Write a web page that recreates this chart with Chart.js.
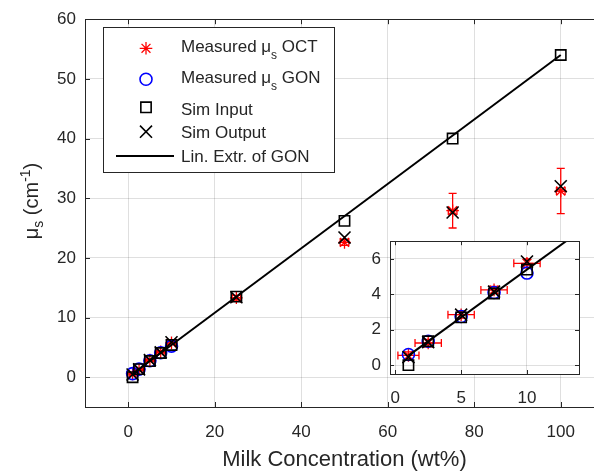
<!DOCTYPE html>
<html><head><meta charset="utf-8">
<script src="https://cdn.jsdelivr.net/npm/chart.js@4/dist/chart.umd.min.js"></script>
<style>
html,body{margin:0;padding:0;background:#fff;overflow:hidden;}
#wrap{position:relative;width:594px;height:474px;overflow:hidden;}
#main{position:absolute;left:0;top:0;}
#inset{position:absolute;left:350px;top:222px;}
</style>
</head><body>
<div id="wrap"><canvas id="main" width="620" height="474"></canvas><canvas id="inset" width="240" height="195"></canvas></div>
<script>
// ---- data ----
const conc      = [1, 2.5, 5, 7.5, 10, 25, 50, 75, 100];
const octMu     = [0.55, 1.25, 2.85, 4.25, 5.75, 13.3, 22.6, 27.9, 31.2];
const octYErr   = [0.2, 0.2, 0.2, 0.2, 0.25, 0.4, 0.5, 2.9, 3.8];
const octXErr   = [0.8, 1.0, 1.0, 1.0, 1.0, 1.0, 1.0, 1.0, 1.0];
const gonConc   = [1, 2.5, 5, 7.5, 10];
const gonMu     = [0.6, 1.35, 2.75, 4.1, 5.2];
const simInput  = [0, 1.35, 2.7, 4.05, 5.4, 13.5, 26.2, 40, 54];
const simOutput = [0.45, 1.3, 2.85, 4.15, 5.85, 13.4, 23.4, 27.6, 32];
const linConc   = [1, 100];
const linMu     = [0.54, 54];
const mainXTicks = [0, 20, 40, 60, 80, 100];
const mainYTicks = [0, 10, 20, 30, 40, 50, 60];
const insetXTicks = [0, 5, 10];
const insetYTicks = [0, 2, 4, 6];
const legendLabels = ['Measured μ|s| OCT', 'Measured μ|s| GON', 'Sim Input', 'Sim Output', 'Lin. Extr. of GON'];

const FONT = "'Liberation Sans', Arial, Helvetica, sans-serif";
const AX = '#262626';
const GRID = 'rgba(38,38,38,0.15)';
const pts = (xs, ys) => xs.map((x, i) => ({x: x, y: ys[i]}));

function datasets() {
  return [
    {label: 'line', data: pts(linConc, linMu), showLine: true, borderColor: '#000', borderWidth: 2, pointRadius: 0, pointHoverRadius: 0},
    {label: 'out', data: pts(conc, simOutput), pointStyle: 'crossRot', pointRadius: 8.5, borderColor: '#000', borderWidth: 1.6, backgroundColor: 'transparent'},
    {label: 'in', data: pts(conc, simInput), pointStyle: 'rect', pointRadius: 7.3, borderColor: '#000', borderWidth: 1.6, backgroundColor: 'transparent'},
    {label: 'gon', data: pts(gonConc, gonMu), pointStyle: 'circle', pointRadius: 6, borderColor: '#0000ff', borderWidth: 1.6, backgroundColor: 'transparent'},
    {label: 'oct', data: pts(conc, octMu), pointStyle: 'star', pointRadius: 6.3, borderColor: '#ff0000', borderWidth: 1.3, backgroundColor: 'transparent'}
  ];
}

const errorBars = {
  id: 'errorBars',
  beforeDatasetsDraw(chart) {
    const ctx = chart.ctx, xs = chart.scales.x, ys = chart.scales.y, a = chart.chartArea;
    ctx.save();
    ctx.beginPath(); ctx.rect(a.left, a.top, a.right - a.left, a.bottom - a.top); ctx.clip();
    ctx.strokeStyle = '#ff0000'; ctx.lineWidth = 1.3;
    const cap = 4;
    conc.forEach((c, i) => {
      const px = xs.getPixelForValue(c), py = ys.getPixelForValue(octMu[i]);
      const y1 = ys.getPixelForValue(octMu[i] - octYErr[i]), y2 = ys.getPixelForValue(octMu[i] + octYErr[i]);
      const x1 = xs.getPixelForValue(c - octXErr[i]), x2 = xs.getPixelForValue(c + octXErr[i]);
      ctx.beginPath();
      ctx.moveTo(px, y1); ctx.lineTo(px, y2);
      ctx.moveTo(px - cap, y1); ctx.lineTo(px + cap, y1);
      ctx.moveTo(px - cap, y2); ctx.lineTo(px + cap, y2);
      ctx.moveTo(x1, py); ctx.lineTo(x2, py);
      ctx.moveTo(x1, py - cap); ctx.lineTo(x1, py + cap);
      ctx.moveTo(x2, py - cap); ctx.lineTo(x2, py + cap);
      ctx.stroke();
    });
    ctx.restore();
  }
};

function boxAndTicks(chart, tl) {
  const ctx = chart.ctx, a = chart.chartArea, xs = chart.scales.x, ys = chart.scales.y;
  ctx.save();
  ctx.strokeStyle = AX; ctx.lineWidth = 1;
  ctx.beginPath();
  xs.ticks.forEach(t => {
    const p = Math.round(xs.getPixelForValue(t.value)) + 0.5;
    ctx.moveTo(p, a.bottom); ctx.lineTo(p, a.bottom - tl);
    ctx.moveTo(p, a.top); ctx.lineTo(p, a.top + tl);
  });
  ys.ticks.forEach(t => {
    const p = Math.round(ys.getPixelForValue(t.value)) + 0.5;
    ctx.moveTo(a.left, p); ctx.lineTo(a.left + tl, p);
    ctx.moveTo(a.right, p); ctx.lineTo(a.right - tl, p);
  });
  ctx.stroke();
  ctx.strokeRect(Math.round(a.left) + 0.5, Math.round(a.top) + 0.5, Math.round(a.right - a.left), Math.round(a.bottom - a.top));
  ctx.restore();
}

// draw text with |sub| parts
function richText(ctx, str, x, y, size, subSize, subDy) {
  const parts = str.split('|');
  let cx = x;
  parts.forEach((p, i) => {
    const isSub = i % 2 === 1;
    ctx.font = (isSub ? subSize : size) + 'px ' + FONT;
    ctx.fillText(p, cx, y + (isSub ? subDy : 0));
    cx += ctx.measureText(p).width;
  });
  return cx;
}

const mainDeco = {
  id: 'mainDeco',
  beforeDraw(chart) {
    const ctx = chart.ctx;
    ctx.save(); ctx.fillStyle = '#fff'; ctx.fillRect(0, 0, chart.width, chart.height); ctx.restore();
  },
  afterDraw(chart) {
    const ctx = chart.ctx, a = chart.chartArea;
    boxAndTicks(chart, 5);
    ctx.save();
    ctx.fillStyle = AX;
    // x title
    ctx.font = '22px ' + FONT; ctx.textAlign = 'center'; ctx.textBaseline = 'alphabetic';
    ctx.fillText('Milk Concentration (wt%)', (a.left + a.right) / 2, 466);
    // y title
    ctx.save();
    ctx.translate(38, 201); ctx.rotate(-Math.PI / 2);
    ctx.textAlign = 'left';
    const yParts = [['μ', 20, 0], ['s', 14, 5], [' (cm', 20, 0], ['-1', 14, -8], [')', 20, 0]];
    let w = 0;
    yParts.forEach(p => { ctx.font = p[1] + 'px ' + FONT; w += ctx.measureText(p[0]).width; });
    let cx = -w / 2;
    yParts.forEach(p => { ctx.font = p[1] + 'px ' + FONT; ctx.fillText(p[0], cx, p[2]); cx += ctx.measureText(p[0]).width; });
    ctx.restore();
    // legend
    const L = 103, T = 27, R = 334, B = 172;
    ctx.fillStyle = '#fff'; ctx.fillRect(L, T, R - L, B - T);
    ctx.strokeStyle = AX; ctx.lineWidth = 1;
    ctx.strokeRect(L + 0.5, T + 0.5, R - L, B - T);
    const symY = [48.3, 79.3, 107.3, 131.7, 156];
    const baseY = [51.7, 83.3, 115, 138.3, 161.7];
    const sx = 146;
    const H = Chart.helpers;
    ctx.lineWidth = 1.3; ctx.strokeStyle = '#ff0000';
    H.drawPoint(ctx, {pointStyle: 'star', radius: 6.3, rotation: 0, borderWidth: 1.3}, sx, symY[0]);
    ctx.lineWidth = 1.6; ctx.strokeStyle = '#0000ff'; ctx.fillStyle = 'transparent';
    H.drawPoint(ctx, {pointStyle: 'circle', radius: 6, rotation: 0, borderWidth: 1.6}, sx, symY[1]);
    ctx.strokeStyle = '#000';
    H.drawPoint(ctx, {pointStyle: 'rect', radius: 7.3, rotation: 0, borderWidth: 1.6}, sx, symY[2]);
    H.drawPoint(ctx, {pointStyle: 'crossRot', radius: 8.5, rotation: 0, borderWidth: 1.6}, sx, symY[3]);
    ctx.lineWidth = 2;
    ctx.beginPath(); ctx.moveTo(116, symY[4]); ctx.lineTo(174, symY[4]); ctx.stroke();
    ctx.fillStyle = AX; ctx.textAlign = 'left'; ctx.textBaseline = 'alphabetic';
    legendLabels.forEach((lab, i) => richText(ctx, lab, 181, baseY[i], 17, 12, 7));
    ctx.restore();
  }
};

const insetDeco = {
  id: 'insetDeco',
  beforeDraw(chart) {
    const ctx = chart.ctx, a = chart.chartArea;
    ctx.save(); ctx.fillStyle = '#fff'; ctx.fillRect(a.left, a.top, a.right - a.left, a.bottom - a.top); ctx.restore();
  },
  afterDraw(chart) { boxAndTicks(chart, 4); }
};

function axis(min, max, tickVals, size, pad, fit) {
  return {
    type: 'linear', min: min, max: max,
    afterBuildTicks: s => { s.ticks = tickVals.map(v => ({value: v})); },
    afterFit: fit,
    grid: {color: GRID, drawTicks: false, lineWidth: 1},
    border: {display: false},
    ticks: {font: {family: FONT, size: size}, color: AX, padding: pad, maxRotation: 0, autoSkip: false}
  };
}

new Chart(document.getElementById('main'), {
  type: 'scatter',
  data: {datasets: datasets()},
  options: {
    responsive: false, animation: false, events: [],
    layout: {padding: {top: 7, right: 16, left: 0, bottom: 0}},
    plugins: {legend: {display: false}, tooltip: {enabled: false}},
    scales: {
      x: axis(-10, 110, mainXTicks, 17, 15, s => { s.height = 67; }),
      y: axis(-5, 60, mainYTicks, 17, 9, s => { s.width = 85; })
    }
  },
  plugins: [mainDeco, errorBars]
});

new Chart(document.getElementById('inset'), {
  type: 'scatter',
  data: {datasets: datasets()},
  options: {
    responsive: false, animation: false, events: [],
    layout: {padding: {top: 10, right: 11, left: 0, bottom: 0}},
    plugins: {legend: {display: false}, tooltip: {enabled: false}},
    scales: {
      x: axis(-0.4, 13.95, insetXTicks, 17, 14, s => { s.height = 43; }),
      y: axis(-0.5, 7, insetYTicks, 17, 9, s => { s.width = 40; })
    }
  },
  plugins: [insetDeco, errorBars]
});
</script>
</body></html>
